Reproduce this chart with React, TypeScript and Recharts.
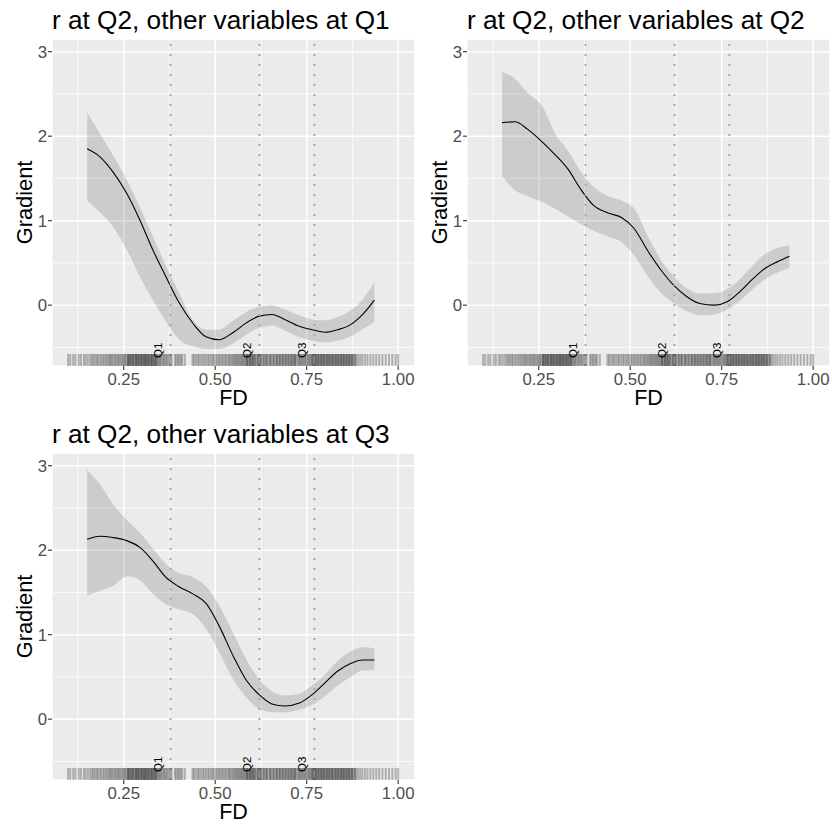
import React from "react";
import { ComposedChart, Area, Line, XAxis, YAxis, CartesianGrid, ReferenceLine, Scatter } from "recharts";

// FD positions the smooths were read at
const FD_GRID = [0.15, 0.185, 0.22, 0.26, 0.295, 0.33, 0.365, 0.4, 0.44, 0.475, 0.51, 0.55, 0.585, 0.62, 0.655, 0.69, 0.73, 0.765, 0.8, 0.835, 0.87, 0.905, 0.935];

// other variables at Q1
const FIT_Q1 = [1.85, 1.755, 1.58, 1.31, 1.0, 0.65, 0.34, 0.04, -0.22, -0.375, -0.41, -0.32, -0.21, -0.13, -0.11, -0.17, -0.25, -0.29, -0.32, -0.29, -0.23, -0.1, 0.06];
const LOWER_Q1 = [1.24, 1.1, 0.93, 0.64, 0.33, 0.06, -0.19, -0.4, -0.49, -0.52, -0.52, -0.45, -0.35, -0.27, -0.24, -0.3, -0.38, -0.42, -0.44, -0.42, -0.37, -0.28, -0.2];
const UPPER_Q1 = [2.28, 2.03, 1.78, 1.47, 1.15, 0.81, 0.47, 0.16, -0.18, -0.29, -0.29, -0.18, -0.08, -0.02, 0.0, -0.05, -0.12, -0.17, -0.18, -0.14, -0.06, 0.08, 0.27];

// other variables at Q2
const FIT_Q2 = [2.16, 2.17, 2.08, 1.93, 1.78, 1.61, 1.37, 1.18, 1.09, 1.04, 0.91, 0.63, 0.41, 0.23, 0.1, 0.02, 0.0, 0.04, 0.16, 0.31, 0.44, 0.52, 0.58];
const LOWER_Q2 = [1.53, 1.36, 1.29, 1.22, 1.14, 1.05, 0.96, 0.88, 0.81, 0.75, 0.59, 0.33, 0.14, 0.02, -0.07, -0.12, -0.11, -0.05, 0.05, 0.19, 0.31, 0.39, 0.44];
const UPPER_Q2 = [2.76, 2.68, 2.51, 2.35, 2.03, 1.83, 1.58, 1.4, 1.29, 1.24, 1.15, 0.8, 0.53, 0.34, 0.2, 0.14, 0.14, 0.19, 0.31, 0.47, 0.61, 0.68, 0.71];

// other variables at Q3
const FIT_Q3 = [2.13, 2.165, 2.15, 2.11, 2.03, 1.87, 1.68, 1.57, 1.48, 1.37, 1.11, 0.74, 0.46, 0.29, 0.18, 0.155, 0.19, 0.29, 0.43, 0.57, 0.66, 0.7, 0.7];
const LOWER_Q3 = [1.46, 1.52, 1.575, 1.69, 1.64, 1.48, 1.36, 1.3, 1.24, 1.07, 0.8, 0.46, 0.26, 0.12, 0.085, 0.08, 0.11, 0.17, 0.27, 0.4, 0.5, 0.58, 0.58];
const UPPER_Q3 = [2.95, 2.78, 2.55, 2.35, 2.2, 2.02, 1.84, 1.73, 1.68, 1.57, 1.35, 1.01, 0.71, 0.47, 0.33, 0.28, 0.3, 0.4, 0.53, 0.69, 0.8, 0.85, 0.84];

const PANEL_TITLES = ["r at Q2, other variables at Q1", "r at Q2, other variables at Q2", "r at Q2, other variables at Q3"];

const QUARTILE_FD = [0.378, 0.621, 0.771];
const QUARTILE_LABELS = ["Q1", "Q2", "Q3"];

// observed FD values (rug)
const RUG_FD = [
  0.098, 0.104, 0.112, 0.118, 0.127, 0.133, 0.141, 0.146, 0.152, 0.158, 0.163, 0.167, 0.171, 0.176, 0.179, 0.184,
  0.188, 0.193, 0.197, 0.201, 0.205, 0.209, 0.212, 0.216, 0.219, 0.223, 0.227, 0.23, 0.234, 0.237, 0.241, 0.244,
  0.248, 0.251, 0.254, 0.257, 0.261, 0.263, 0.266, 0.269, 0.272, 0.274, 0.277, 0.28, 0.283, 0.285, 0.288, 0.291,
  0.293, 0.296, 0.299, 0.301, 0.304, 0.307, 0.309, 0.312, 0.315, 0.317, 0.32, 0.323, 0.326, 0.328, 0.331, 0.334,
  0.337, 0.34, 0.343, 0.346, 0.349, 0.352, 0.356, 0.359, 0.362, 0.366, 0.369, 0.373, 0.377, 0.381, 0.39, 0.394,
  0.398, 0.402, 0.406, 0.41, 0.417, 0.438, 0.442, 0.447, 0.452, 0.456, 0.461, 0.466, 0.47, 0.475, 0.48, 0.484, 0.489,
  0.493, 0.497, 0.502, 0.506, 0.51, 0.514, 0.518, 0.522, 0.526, 0.53, 0.534, 0.538, 0.541, 0.545, 0.548, 0.552,
  0.555, 0.558, 0.561, 0.564, 0.567, 0.57, 0.573, 0.576, 0.579, 0.582, 0.585, 0.588, 0.591, 0.594, 0.597, 0.6,
  0.603, 0.606, 0.61, 0.614, 0.618, 0.622, 0.626, 0.63, 0.635, 0.639, 0.643, 0.648, 0.652, 0.656, 0.661, 0.665,
  0.669, 0.673, 0.677, 0.681, 0.685, 0.689, 0.693, 0.697, 0.701, 0.705, 0.708, 0.712, 0.716, 0.719, 0.722, 0.726,
  0.729, 0.732, 0.735, 0.738, 0.741, 0.744, 0.747, 0.75, 0.753, 0.756, 0.759, 0.762, 0.765, 0.768, 0.771, 0.774,
  0.777, 0.78, 0.783, 0.786, 0.789, 0.792, 0.795, 0.798, 0.801, 0.804, 0.807, 0.81, 0.813, 0.816, 0.819, 0.822,
  0.825, 0.828, 0.831, 0.834, 0.837, 0.84, 0.843, 0.846, 0.849, 0.852, 0.855, 0.858, 0.861, 0.864, 0.867, 0.87,
  0.873, 0.876, 0.88, 0.885, 0.89, 0.896, 0.902, 0.909, 0.916, 0.924, 0.932, 0.94, 0.948, 0.957, 0.966, 0.975,
  0.984, 0.993, 1.0,
  // repeated values where the rug is darkest
  0.262, 0.268, 0.276, 0.284, 0.29, 0.298, 0.305, 0.311, 0.318, 0.325, 0.332, 0.338,
  0.587, 0.595, 0.602, 0.609, 0.617, 0.624, 0.633, 0.641, 0.65, 0.659, 0.668, 0.676, 0.684, 0.692, 0.7, 0.709, 0.717,
  0.766, 0.775, 0.782, 0.79, 0.797, 0.805, 0.812, 0.82, 0.829, 0.836, 0.844, 0.851, 0.859, 0.866, 0.874, 0.882,
];

const X_TICKS = [0.25, 0.5, 0.75, 1.0];
const Y_TICKS = [0, 1, 2, 3];
const X_MINOR = [0.125, 0.375, 0.625, 0.875];
const Y_MINOR = [-0.5, 0.5, 1.5, 2.5];

const X_DOMAIN: [number, number] = [0.054, 1.046];
const Y_DOMAIN: [number, number] = [-0.72, 3.15];

const FONT = '"Liberation Sans", Arial, Helvetica, sans-serif';
const CELL_W = 416;
const CELL_H = 414;

function GamPanel({ title, fit, lower, upper, left, top }: any) {
  const rows = FD_GRID.map((fd, i) => ({ fd, fit: fit[i], band: [lower[i], upper[i]] }));
  const rug = RUG_FD.map((fd) => ({ fd, g: Y_DOMAIN[0] }));

  return (
    <div style={{ position: "absolute", left, top, width: CELL_W, height: CELL_H }}>
      <div
        style={{
          position: "absolute",
          left: 52,
          top: 5,
          fontFamily: FONT,
          fontSize: 26.2,
          lineHeight: "30px",
          whiteSpace: "nowrap",
          color: "#000",
        }}
      >
        {title}
      </div>
      <ComposedChart width={CELL_W} height={CELL_H} data={rows} margin={{ top: 39, right: 1, bottom: 0, left: 0 }}>
        <CartesianGrid fill="#EBEBEB" stroke="#FFFFFF" strokeWidth={1.5} />
        <CartesianGrid
          horizontalValues={Y_MINOR}
          verticalValues={X_MINOR}
          stroke="#FFFFFF"
          strokeWidth={0.75}
          fill="none"
        />
        <XAxis
          dataKey="fd"
          type="number"
          domain={X_DOMAIN}
          allowDataOverflow
          ticks={X_TICKS}
          tickFormatter={(v: number) => v.toFixed(2)}
          height={48}
          axisLine={false}
          tickSize={4}
          tickMargin={3}
          tickLine={{ stroke: "#333333", strokeWidth: 1.1 }}
          tick={{ fill: "#4D4D4D", fontSize: 16.8, fontFamily: FONT }}
          label={{
            content: (p: any) => (
              <text
                x={p.viewBox.x + p.viewBox.width / 2}
                y={p.viewBox.y + 39}
                textAnchor="middle"
                fontSize={21.5}
                fontFamily={FONT}
                fill="#000"
              >
                FD
              </text>
            ),
          }}
        />
        <YAxis
          type="number"
          domain={Y_DOMAIN}
          allowDataOverflow
          ticks={Y_TICKS}
          width={52}
          axisLine={false}
          tickSize={4}
          tickMargin={1}
          tickLine={{ stroke: "#333333", strokeWidth: 1.1 }}
          tick={{ fill: "#4D4D4D", fontSize: 16.8, fontFamily: FONT }}
          label={{
            content: (p: any) => {
              const cx = 31.5;
              const cy = p.viewBox.y + p.viewBox.height / 2;
              return (
                <text
                  x={cx}
                  y={cy}
                  transform={`rotate(-90, ${cx}, ${cy})`}
                  textAnchor="middle"
                  fontSize={21.8}
                  fontFamily={FONT}
                  fill="#000"
                >
                  Gradient
                </text>
              );
            },
          }}
        />
        <Area
          dataKey="band"
          type="monotone"
          stroke="none"
          fill="#000000"
          fillOpacity={0.13}
          isAnimationActive={false}
        />
        <Line
          dataKey="fit"
          type="monotone"
          stroke="#000000"
          strokeWidth={1.1}
          dot={false}
          activeDot={false}
          isAnimationActive={false}
        />
        {QUARTILE_FD.map((q, i) => (
          <ReferenceLine
            key={QUARTILE_LABELS[i]}
            x={q}
            stroke="#A8A8A8"
            strokeWidth={2}
            strokeDasharray="2 8"
            label={{
              content: (p: any) => {
                const lx = p.viewBox.x - 8.5;
                const ly = p.viewBox.y + p.viewBox.height - 8;
                return (
                  <text
                    x={lx}
                    y={ly}
                    transform={`rotate(-90, ${lx}, ${ly})`}
                    fontSize={11.5}
                    fontFamily={FONT}
                    fill="#000"
                  >
                    {QUARTILE_LABELS[i]}
                  </text>
                );
              },
            }}
          />
        ))}
        <Scatter
          data={rug}
          dataKey="g"
          isAnimationActive={false}
          shape={(p: any) => (
            <rect x={p.cx - 1} y={p.cy - 12} width={2} height={12} fill="#000000" fillOpacity={0.26} />
          )}
        />
      </ComposedChart>
    </div>
  );
}

export default function App() {
  return (
    <div style={{ position: "absolute", left: 0, top: 0, width: 832, height: 827, background: "#FFFFFF" }}>
      <GamPanel title={PANEL_TITLES[0]} fit={FIT_Q1} lower={LOWER_Q1} upper={UPPER_Q1} left={0} top={0} />
      <GamPanel title={PANEL_TITLES[1]} fit={FIT_Q2} lower={LOWER_Q2} upper={UPPER_Q2} left={415} top={0} />
      <GamPanel title={PANEL_TITLES[2]} fit={FIT_Q3} lower={LOWER_Q3} upper={UPPER_Q3} left={0} top={414} />
    </div>
  );
}
